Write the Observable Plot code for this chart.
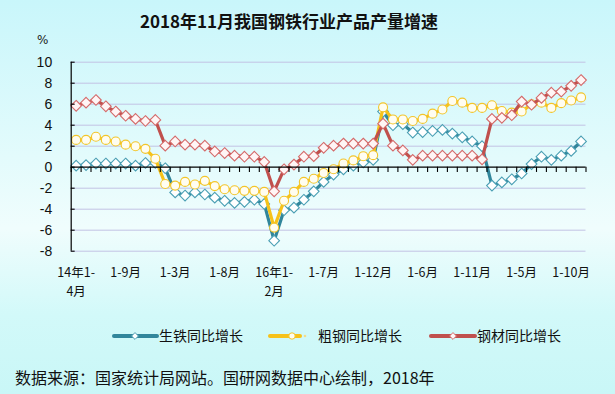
<!DOCTYPE html>
<html>
<head>
<meta charset="utf-8">
<script src="https://cdn.jsdelivr.net/npm/d3@7"></script>
<script src="https://cdn.jsdelivr.net/npm/@observablehq/plot@0.6"></script>
<style>
  html, body { margin: 0; padding: 0; }
  #wrap {
    position: relative; width: 615px; height: 394px; overflow: hidden;
    background: linear-gradient(to bottom, #c9f6fb 0%, #e3fbfc 40%, #f0fdfd 58%, #d2f9f9 80%, #c9f7f7 100%);
    font-family: "Noto Sans CJK SC", "Noto Sans", sans-serif;
  }
  #title { position: absolute; left: 0; width: 578px; top: 8px; text-align: center; font-size: 17px; font-weight: bold; color: #111; }
  #pct { position: absolute; left: 37px; top: 33px; font-size: 12px; color: #222; font-family: "DejaVu Sans", sans-serif; }
  #chart { position: absolute; left: 0; top: 0; }
  #legend { position: absolute; left: 0; top: 324px; width: 615px; height: 24px; }
  #caption { position: absolute; left: 15px; top: 365px; font-size: 16px; color: #111; white-space: nowrap; }
</style>
</head>
<body>
<div id="wrap">
  <div id="chart"></div>
  <div id="title">2018年11月我国钢铁行业产品产量增速</div>
  <div id="pct">%</div>
  <div id="legend"></div>
  <div id="caption">数据来源：国家统计局网站。国研网数据中心绘制，2018年</div>
</div>
<script>
// ---- data ----
const xLabels = ["14年1-\n4月", "1-9月", "1-3月", "1-8月", "16年1-\n2月", "1-7月", "1-12月", "1-6月", "1-11月", "1-5月", "1-10月"];
const labelEvery = 5;
const yTicks = [-8, -6, -4, -2, 0, 2, 4, 6, 8, 10];
const seriesNames = ["生铁同比增长", "粗钢同比增长", "钢材同比增长"];
const pigIron = [0.15, 0.2, 0.35, 0.35, 0.35, 0.35, 0.15, 0.4, 0.4, -0.1,
  -2.4, -2.7, -2.4, -2.6, -2.9, -3.2, -3.4, -3.3, -3.1, -3.5,
  -7.0, -4.1, -3.85, -3.1, -2.3, -1.4, -0.7, -0.2, 0.15, 0.45,
  0.7, 5.3, 4.0, 4.1, 3.3, 3.35, 3.45, 3.55, 3.2, 2.85,
  2.45, 2.0, -1.75, -1.45, -1.15, -0.6, 0.3, 1.0, 0.7, 1.1,
  1.55, 2.45];
const crudeSteel = [2.6, 2.6, 2.9, 2.6, 2.45, 2.15, 2.0, 1.75, 0.8, -1.6,
  -1.75, -1.4, -1.65, -1.3, -1.8, -2.1, -2.2, -2.25, -2.25, -2.35,
  -5.75, -3.2, -2.35, -1.4, -1.1, -0.55, -0.2, 0.35, 0.65, 1.05,
  1.15, 5.7, 4.55, 4.55, 4.4, 4.6, 5.1, 5.5, 6.3, 6.15,
  5.65, 5.65, 5.9, 5.35, 5.2, 5.3, 6.0, 6.15, 5.65, 6.1,
  6.35, 6.65];
const steelProducts = [5.85, 6.15, 6.4, 5.8, 5.3, 4.9, 4.6, 4.4, 4.5, 2.05,
  2.45, 2.15, 2.15, 2.05, 1.5, 1.35, 1.1, 1.0, 1.0, 0.5,
  -2.3, -0.2, 0.25, 1.0, 1.05, 1.85, 2.05, 2.25, 2.25, 2.25,
  2.25, 4.15, 2.05, 1.6, 0.7, 1.1, 1.1, 1.1, 1.1, 1.1,
  1.1, 0.75, 4.6, 4.7, 4.95, 6.25, 5.95, 6.6, 7.1, 7.2,
  7.75, 8.3];

// ---- styles ----
const colors = ["#31869b", "#f6c21a", "#c0504d"];
const markerStroke = ["#4a9fb4", "#f3c52a", "#d46a6a"];
const markerFill = ["#ffffff", "#fffdf0", "#fff5f5"];
const symbols = ["diamond2", "circle", "diamond2"];

const n = pigIron.length;
const allSeries = [pigIron, crudeSteel, steelProducts];
const labelIdx = xLabels.map((_, k) => k * labelEvery);
const boundaries = d3.range(n + 1).map(i => i - 0.5);

const seriesMarks = [];
allSeries.forEach((vals, s) => {
  const data = vals.map((v, i) => ({i, v}));
  seriesMarks.push(Plot.line(data, {x: "i", y: "v", stroke: colors[s], strokeWidth: 3.2}));
  seriesMarks.push(Plot.dot(data, {x: "i", y: "v", symbol: symbols[s], r: s === 1 ? 4.5 : 4.8,
    fill: markerFill[s], stroke: markerStroke[s], strokeWidth: 1.1}));
});

const chart = Plot.plot({
  width: 615,
  height: 305,
  marginLeft: 70.7,
  marginRight: 29.5,
  marginTop: 61.7,
  marginBottom: 54.3,
  style: {background: "transparent", fontFamily: "'Noto Sans CJK SC', sans-serif", overflow: "visible"},
  x: {type: "linear", domain: [-0.5, n - 0.5]},
  y: {domain: [-8, 10]},
  marks: [
    Plot.ruleY(yTicks.filter(d => d !== 0), {stroke: "#c3c3e4", strokeWidth: 1}),
    Plot.axisY({ticks: yTicks, tickSize: 0, tickPadding: 19, fontSize: 14, label: null,
      tickFormat: d => String(d), fontFamily: "'Liberation Sans', Arial, sans-serif", fill: "#111"}),
    Plot.axisX({ticks: labelIdx, tickSize: 0, tickPadding: 12, fontSize: 12.5, label: null,
      tickFormat: i => xLabels[i / labelEvery], lineHeight: 1.55, fill: "#111"}),
    ...seriesMarks,
    Plot.ruleY([0], {stroke: "#000", strokeWidth: 1.3}),
    Plot.ruleX(boundaries, {y1: 0, y2: -0.5, stroke: "#000", strokeWidth: 1.1}),
    Plot.ruleX([-0.5], {y1: -8, y2: 10, stroke: "#000", strokeWidth: 1.2}),
    Plot.ruleY(yTicks, {x1: -0.5, x2: -0.1, stroke: "#000", strokeWidth: 1.1})
  ]
});
document.getElementById("chart").appendChild(chart);

// ---- legend ----
const leg = d3.select("#legend").append("svg").attr("width", 615).attr("height", 24);
const legItems = [
  {x1: 114, x2: 157, mx: 135, tx: 159},
  {x1: 270, x2: 300, mx: 292, tx: 318},
  {x1: 431, x2: 475, mx: 453, tx: 477}
];
legItems.forEach((it, s) => {
  const g = leg.append("g");
  g.append("line").attr("x1", it.x1).attr("x2", it.x2).attr("y1", 12).attr("y2", 12)
    .attr("stroke", colors[s]).attr("stroke-width", 4).attr("stroke-linecap", "round");
  if (s === 1) {
    g.append("circle").attr("cx", it.mx).attr("cy", 12).attr("r", 3.2)
      .attr("fill", "#fffdf0").attr("stroke", markerStroke[s]).attr("stroke-width", 1);
    g.append("circle").attr("cx", it.mx + 13).attr("cy", 12).attr("r", 1.3).attr("fill", "#f3dc8a");
  } else {
    g.append("path").attr("d", d3.symbol(d3.symbolDiamond2, 30)())
      .attr("transform", `translate(${it.mx},12)`)
      .attr("fill", markerFill[s]).attr("stroke", markerStroke[s]).attr("stroke-width", 1);
  }
  g.append("text").attr("x", it.tx).attr("y", 17).attr("font-size", 14)
    .attr("font-family", "'Noto Sans CJK SC', sans-serif").attr("fill", "#111").text(seriesNames[s]);
});
</script>
</body>
</html>
